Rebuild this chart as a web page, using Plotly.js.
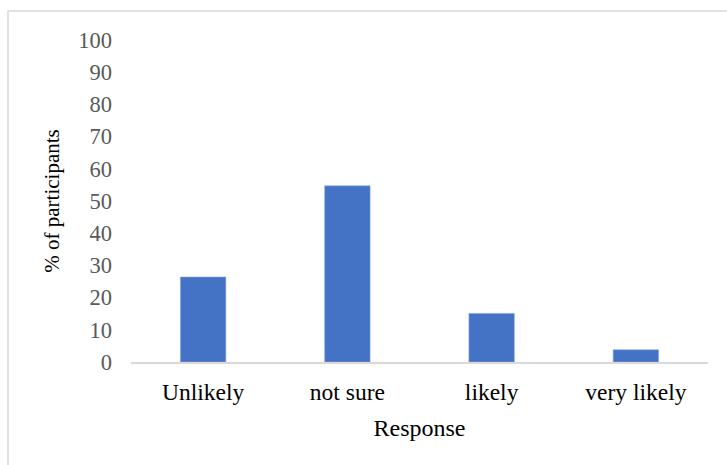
<!DOCTYPE html>
<html>
<head>
<meta charset="utf-8">
<script src="https://cdn.plot.ly/plotly-3.0.1.min.js"></script>
<style>
  html, body { margin: 0; padding: 0; background: #ffffff; }
  #chart { width: 727px; height: 465px; }
</style>
</head>
<body>
<div id="chart"></div>
<script>
// Survey responses: share of participants per answer
const categories = ["Unlikely", "not sure", "likely", "very likely"];
const percentValues = [26.4, 54.7, 15.1, 3.8];
const yTickValues = [0, 10, 20, 30, 40, 50, 60, 70, 80, 90, 100];

const serif = "Liberation Serif, Times New Roman, serif";

const trace = {
  type: "bar",
  x: categories,
  y: percentValues,
  marker: { color: "#4472C4", line: { color: "#8FAADC", width: 0.6 } },
  hoverinfo: "x+y"
};

// plot area: left 131px, right 708px, top 40px, bottom 362px
const L = 131, R = 19, T = 40, B = 103;
const plotW = 727 - L - R, plotH = 465 - T - B;

const layout = {
  width: 727,
  height: 465,
  margin: { l: L, r: R, t: T, b: B },
  paper_bgcolor: "#ffffff",
  plot_bgcolor: "#ffffff",
  showlegend: false,
  bargap: 0.685,
  font: { family: serif, size: 23.5, color: "#000000" },
  xaxis: {
    type: "category",
    showgrid: false,
    zeroline: false,
    showline: true,
    linecolor: "#d9d9d9",
    linewidth: 1.5,
    ticks: "",
    ticklabelstandoff: 8,
    tickfont: { family: serif, size: 23.5, color: "#000000" },
    title: { text: "Response", font: { family: serif, size: 24, color: "#000000" }, standoff: 15 },
    automargin: false
  },
  yaxis: {
    range: [0, 100],
    tickvals: yTickValues,
    showgrid: false,
    zeroline: false,
    showline: false,
    ticks: "",
    ticklabelstandoff: 18,
    tickfont: { family: serif, size: 22.5, color: "#595959" },
    title: { text: "% of participants", font: { family: serif, size: 21, color: "#000000" }, standoff: 12 },
    automargin: false
  },
  shapes: [{
    type: "rect",
    xref: "paper", yref: "paper",
    x0: (8 - L) / plotW,
    x1: (740 - L) / plotW,
    y0: (T + plotH - 480) / plotH,
    y1: (T + plotH - 11) / plotH,
    line: { color: "#d9d9d9", width: 1.5 },
    fillcolor: "rgba(0,0,0,0)",
    layer: "below"
  }]
};

Plotly.newPlot("chart", [trace], layout, { displayModeBar: false, staticPlot: true });
</script>
</body>
</html>
